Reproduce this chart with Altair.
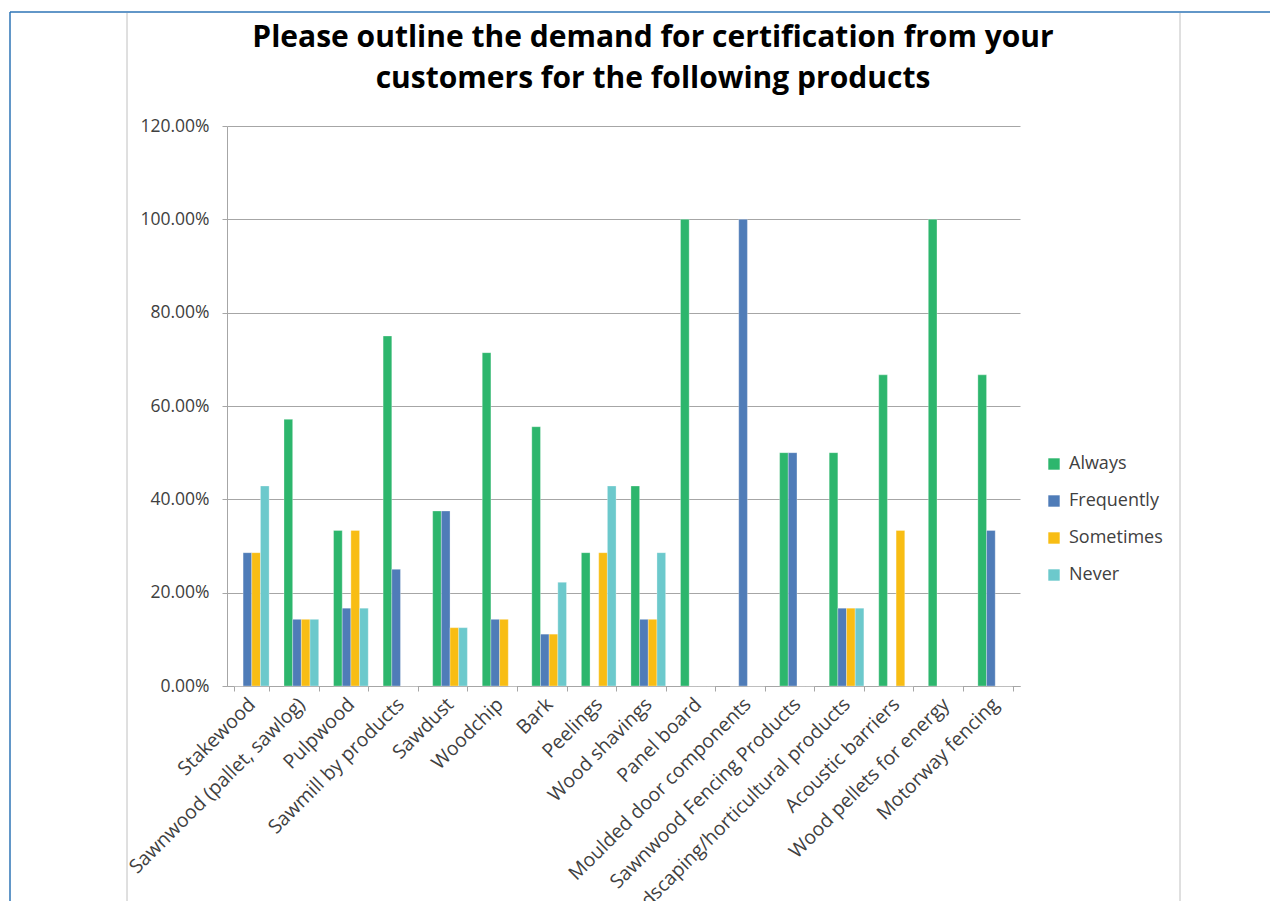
import altair as alt
import pandas as pd

categories = [
    "Stakewood", "Sawnwood (pallet, sawlog)", "Pulpwood", "Sawmill by products",
    "Sawdust", "Woodchip", "Bark", "Peelings", "Wood shavings", "Panel board",
    "Moulded door components", "Sawnwood Fencing Products",
    "Landscaping/horticultural products", "Acoustic barriers",
    "Wood pellets for energy", "Motorway fencing",
]
series = ["Always", "Frequently", "Sometimes", "Never"]
always     = [0.0, 0.5714, 0.3333, 0.75, 0.375, 0.7143, 0.5556, 0.2857, 0.4286, 1.0, 0.0, 0.5, 0.5, 0.6667, 1.0, 0.6667]
frequently = [0.2857, 0.1429, 0.1667, 0.25, 0.375, 0.1429, 0.1111, 0.0, 0.1429, 0.0, 1.0, 0.5, 0.1667, 0.0, 0.0, 0.3333]
sometimes  = [0.2857, 0.1429, 0.3333, 0.0, 0.125, 0.1429, 0.1111, 0.2857, 0.1429, 0.0, 0.0, 0.0, 0.1667, 0.3333, 0.0, 0.0]
never      = [0.4286, 0.1429, 0.1667, 0.0, 0.125, 0.0, 0.2222, 0.4286, 0.2857, 0.0, 0.0, 0.0, 0.1667, 0.0, 0.0, 0.0]
colors = ["#2db66d", "#4f7cb8", "#f8bd14", "#6cc9cc"]
title_lines = ["Please outline the demand for certification from your",
               "customers for the following products"]

rows = []
for s, vals in zip(series, [always, frequently, sometimes, never]):
    for c, v in zip(categories, vals):
        rows.append({"Product": c, "Response": s, "Value": v})
df = pd.DataFrame(rows)

FONT = "Open Sans"
W, H = 793, 560

bars = alt.Chart(df).mark_bar(stroke="white", strokeWidth=0.5, strokeOpacity=0.6).encode(
    x=alt.X("Product:N", sort=categories, title=None,
            scale=alt.Scale(paddingInner=0.3, paddingOuter=0.15),
            axis=alt.Axis(labelAngle=-45, labelAlign="right", labelBaseline="middle",
                          tickBand="extent", ticks=True, tickSize=5, tickColor="#a6a6a6",
                          domainColor="#a6a6a6", labelFont=FONT, labelFontSize=19.5,
                          labelColor="#404040", labelPadding=10, labelOverlap=False,
                          labelLimit=500)),
    xOffset=alt.XOffset("Response:N", sort=series),
    y=alt.Y("Value:Q", title=None,
            scale=alt.Scale(domain=[0, 1.2], nice=False),
            axis=alt.Axis(format=".2%", values=[0, 0.2, 0.4, 0.6, 0.8, 1.0, 1.2],
                          grid=True, gridColor="#a6a6a6", domainColor="#a6a6a6",
                          tickColor="#a6a6a6", tickSize=5, labelFont=FONT,
                          labelFontSize=17.5, labelColor="#404040", labelPadding=13)),
    color=alt.Color("Response:N", sort=series,
                    scale=alt.Scale(domain=series, range=colors),
                    legend=alt.Legend(title=None, orient="none", legendX=818, legendY=329,
                                      symbolType="square", symbolSize=130,
                                      symbolStrokeWidth=0, labelFont=FONT,
                                      labelFontSize=18, labelColor="#404040",
                                      rowPadding=19, labelOffset=6)),
)

deco_df = pd.DataFrame({"k": [0]})
blue = "#2e75b6"
gray = "#c0c0c0"
top_line = alt.Chart(deco_df).mark_rule(color=blue, strokeWidth=1.5).encode(
    x=alt.value(-217), x2=alt.value(1048), y=alt.value(-114))
left_line = alt.Chart(deco_df).mark_rule(color=blue, strokeWidth=1.5).encode(
    x=alt.value(-217), y=alt.value(-114), y2=alt.value(780))
gray_left = alt.Chart(deco_df).mark_rule(color=gray, strokeWidth=1).encode(
    x=alt.value(-100), y=alt.value(-113), y2=alt.value(780))
gray_right = alt.Chart(deco_df).mark_rule(color=gray, strokeWidth=1).encode(
    x=alt.value(953), y=alt.value(-113), y2=alt.value(780))

title1 = alt.Chart(deco_df).mark_text(font=FONT, fontSize=30, fontWeight="bold",
                                      color="#000000", align="center",
                                      baseline="alphabetic").encode(
    x=alt.value(426), y=alt.value(-79), text=alt.value(title_lines[0]))
title2 = alt.Chart(deco_df).mark_text(font=FONT, fontSize=30, fontWeight="bold",
                                      color="#000000", align="center",
                                      baseline="alphabetic").encode(
    x=alt.value(426), y=alt.value(-38), text=alt.value(title_lines[1]))

chart = alt.layer(top_line, left_line, gray_left, gray_right, title1, title2, bars).properties(
    width=W, height=H,
    autosize=alt.AutoSizeParams(type="none"),
    padding={"left": 219, "top": 118, "right": 250, "bottom": 215},
).configure_view(stroke=None)

chart.save("out.html", embed_options={"renderer": "svg", "actions": False})
